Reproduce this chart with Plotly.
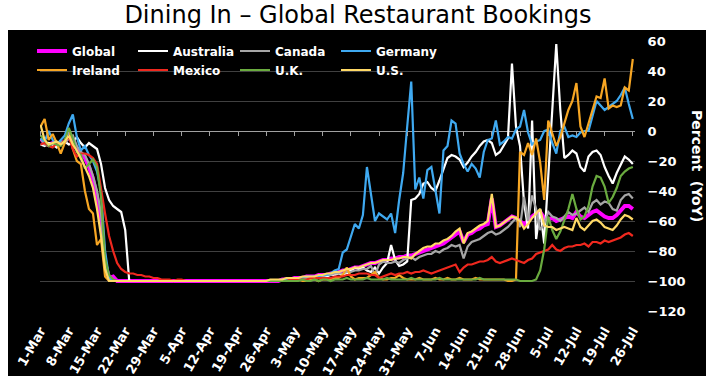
import pandas as pd
import plotly.graph_objects as go

# ---------------- data (daily, 1-Mar-2020 .. 26-Jul-2020) ----------------
dates = pd.date_range("2020-03-01", "2020-07-26", freq="D")

global_vals = ([-5, -8, -9, -8, -8, -8, -7, -4, -6, -12, -15, -18, -24, -32, -44, -62, -88, -98, -97, -100]
               + [-100] * 40 +
               [-99, -99, -99, -98, -98, -98, -97, -97, -97, -96,
                -96, -96, -95, -95, -94, -93, -93, -92, -91, -91,
                -90, -89, -88, -88, -87, -86, -86, -85, -85, -84,
                -84, -83, -83, -82, -81, -80, -79, -78, -77, -76,
                -75, -73, -71, -69, -67, -74, -69, -68, -66, -65,
                -63, -62, -45, -64, -63, -61, -59, -57, -58, -60,
                -62, -60, -57, -55, -54, -58, -59, -58, -60, -59,
                -58, -57, -58, -54, -57, -58, -56, -54, -53, -55,
                -57, -58, -58, -56, -53, -50, -50, -52])

australia = ([-9, -10, -8, -9, -11, -8, -7, -9, -8, -4, -8, -11, -8, -10, -12, -22, -38, -46, -50, -52, -54, -66, -100]
             + [-100] * 37 +
             [-100, -100, -99, -99, -99, -98, -98, -98, -97, -97,
              -97, -97, -96, -96, -95, -96, -95, -93, -91, -92,
              -91, -93, -94, -91, -95, -91, -88, -76, -86, -90,
              -89, -87, -46, -45, -42, -35, -34, -38, -40, -33,
              -25, -18, -16, -17, -19, -24, -21, -17, -14, -10,
              -7, -6, -8, -16, -14, -9, -5, 45, 3, -10,
              -48, -65, 7, -72, -52, -75, -29, 10, 58, 14,
              -18, -16, -13, -15, -24, -27, -17, -14, -13, -16,
              -24, -30, -35, -28, -22, -17, -19, -22])

canada = ([-5, -9, -10, -8, -9, -7, -8, -5, -3, -10, -14, -16, -22, -30, -40, -55, -88, -98, -100]
          + [-100] * 41 +
          [-100, -99, -99, -99, -99, -98, -98, -98, -97, -97,
           -97, -96, -96, -95, -95, -95, -94, -94, -93, -93,
           -92, -92, -90, -96, -89, -87, -88, -88, -87, -88,
           -86, -85, -84, -86, -84, -83, -82, -82, -80, -81,
           -79, -78, -76, -77, -76, -85, -77, -74, -73, -72,
           -70, -68, -67, -69, -68, -66, -64, -61, -58, -64,
           -44, -60, -43, -52, -66, -62, -54, -57, -58, -60,
           -57, -54, -56, -55, -53, -51, -54, -48, -46, -49,
           -47, -48, -52, -53, -46, -43, -42, -45])

germany = ([-5, -7, 0, -6, -9, -6, -3, 5, 11, -4, -13, -10, -16, -20, -27, -40, -80, -98]
           + [-100] * 42 +
           [-99, -99, -99, -98, -98, -98, -97, -97, -97, -97,
            -96, -96, -95, -93, -92, -81, -79, -70, -62, -65,
            -56, -24, -41, -60, -55, -57, -59, -55, -68, -46,
            -28, 3, 33, -39, -31, -45, -26, -24, -41, -55,
            -13, -10, 7, 5, -15, -22, -27, -22, -25, -31,
            -14, -6, -5, 7, -9, -7, -4, -5, 1, 3,
            14, -1, -9, -7, -6, 0, 1, -8, -15, 0,
            3, -4, -3, -4, -1, 0, 0, 10, 20, 17,
            14, 16, 18, 20, 24, 29, 18, 8])

ireland = ([3, 8, -6, -2, -8, -15, -8, 0, -12, -20, -22, -40, -52, -55, -76, -72, -97, -100]
           + [-100] * 42 +
           [-100, -100, -100, -100, -99, -100, -100, -99, -99, -100,
            -99, -99, -99, -98, -98, -96, -91, -97, -99, -98,
            -98, -98, -96, -94, -98, -99, -99, -98, -98, -96,
            -98, -99, -99, -99, -98, -99, -99, -99, -98, -99,
            -99, -98, -99, -99, -98, -99, -99, -99, -98, -99,
            -99, -99, -99, -99, -99, -99, -100, -100]
           + [-99, -14, -16, -8, -16, -5, -21, -46, 7, -1,
              -10, -4, 5, 14, 20, 32, 3, -4, 5, 14,
              23, 22, 35, 15, 17, 16, 17, 29, 27, 48])

mexico = ([-9, -8, -10, -11, -8, -9, -6, -4, -12, -17, -15, -15, -16, -18, -22, -40, -55, -70,
           -80, -88, -92, -94, -95, -95, -96, -96, -97, -97, -98, -98, -99, -99, -99, -100, -99, -99]
          + [-100] * 24 +
          [-100, -100, -99, -99, -99, -99, -99, -98, -98, -98,
           -98, -98, -98, -97, -97, -97, -96, -96, -96, -95,
           -95, -95, -96, -96, -98, -97, -96, -95, -96, -95,
           -95, -94, -95, -94, -94, -93, -94, -95, -94, -93,
           -92, -91, -90, -89, -94, -91, -89, -89, -88, -87,
           -87, -86, -84, -87, -88, -87, -86, -85, -86, -87,
           -88, -86, -85, -82, -81, -80, -79, -76, -79, -80,
           -78, -77, -77, -76, -76, -75, -77, -74, -74, -75,
           -73, -74, -73, -72, -71, -69, -68, -70])

uk = ([-3, -6, -10, -8, -9, -10, -6, 2, -5, -14, -16, -25, -22, -19, -24, -44, -85, -96, -99, -100]
      + [-100] * 40 +
      [-100, -100, -100, -100, -100, -99, -100, -100, -99, -100,
       -99, -99, -100, -99, -99, -99, -98, -99, -99, -99,
       -99, -98, -99, -99, -99, -99, -98, -99, -99, -99,
       -99, -99, -98, -99, -99, -99, -99, -99, -99, -98,
       -99, -99, -99, -99, -99, -99, -99, -99, -99, -98,
       -99, -99, -99, -99, -99, -99, -99, -99, -99, -100]
      + [-100, -100, -100, -99, -93, -79, -57, -66, -72, -67,
         -60, -52, -42, -52, -59, -57, -50, -37, -30, -31,
         -37, -48, -44, -38, -30, -27, -25, -24])

us = ([4, -6, -9, -8, -7, -9, -7, -3, -9, -13, -18, -24, -30, -38, -52, -70, -92, -100]
      + [-100] * 38 +
      [-100, -99, -99, -99,
       -99, -98, -98, -98, -98, -97, -97, -97, -97, -96,
       -96, -95, -95, -94, -94, -93, -92, -92, -91, -91,
       -90, -89, -88, -88, -87, -86, -86, -86, -85, -85,
       -84, -84, -85, -82, -80, -78, -77, -77, -75, -75,
       -73, -72, -70, -67, -65, -75, -68, -67, -65, -63,
       -62, -60, -42, -64, -63, -61, -59, -57, -58, -60,
       -65, -62, -58, -55, -52, -63, -64, -64, -66, -65,
       -64, -65, -66, -58, -64, -66, -63, -60, -59, -61,
       -64, -65, -66, -63, -59, -56, -57, -59])

names = ["Global", "Australia", "Canada", "Germany", "Ireland", "Mexico", "U.K.", "U.S."]
values = [global_vals, australia, canada, germany, ireland, mexico, uk, us]
colors = ["#ff00ff", "#ffffff", "#a6a6a6", "#3fa9f0", "#f7a623", "#f0281e", "#6aab3f", "#ffd966"]
widths = [4, 2.2, 2.2, 2.2, 2.2, 2.2, 2.2, 2.2]

y_ticks = [-120, -100, -80, -60, -40, -20, 0, 20, 40, 60]

# ---------------- geometry (pixels) ----------------
W, H = 716, 386
ML, MR, MT, MB = 40, 81, 41, 75
PW, PH = W - ML - MR, H - MT - MB


def px_x(p):
    return (p - ML) / PW


def px_y(p):
    return (H - MB - p) / PH


bold_white = dict(family="DejaVu Sans", color="white", weight="bold")

fig = go.Figure()
legend_cols_px = [32, 133, 235, 336]
legend_rows_px = [51, 70]
layout_legends = {}
for i, (n, v, c, w) in enumerate(zip(names, values, colors, widths)):
    assert len(v) == len(dates), (n, len(v))
    key = "legend" if i == 0 else f"legend{i + 1}"
    fig.add_trace(go.Scatter(x=dates, y=v, mode="lines", name=n,
                             line=dict(color=c, width=w), legend=key))
    layout_legends[key] = dict(
        x=px_x(legend_cols_px[i % 4]), y=px_y(legend_rows_px[i // 4]),
        xanchor="left", yanchor="middle", orientation="h",
        bgcolor="rgba(0,0,0,0)", borderwidth=0, itemwidth=30,
        font=dict(size=12, **bold_white))

# invisible helper trace for the tick marks along the zero line
fig.add_trace(go.Scatter(x=[dates[0]], y=[None], xaxis="x2", showlegend=False,
                         hoverinfo="skip", mode="lines"))

x_range = ["2020-02-29 20:24", "2020-07-26 13:00"]

fig.update_layout(
    width=W, height=H,
    margin=dict(l=ML, r=MR, t=MT, b=MB, pad=0, autoexpand=False),
    paper_bgcolor="white", plot_bgcolor="black",
    title=dict(text="Dining In – Global Restaurant Bookings", x=0.5, xref="container",
               xanchor="center", y=1 - 15 / H, yref="container", yanchor="middle",
               automargin=False,
               font=dict(family="DejaVu Sans", size=24, color="black")),
    xaxis=dict(type="date", range=x_range, tick0="2020-03-01", dtick=7 * 86400000,
               tickformat="%-d-%b", tickangle=-60, showgrid=False, zeroline=False,
               showline=False, ticks="outside", ticklen=6, tickcolor="rgba(0,0,0,0)",
               automargin=False, tickfont=dict(size=13, **bold_white)),
    xaxis2=dict(type="date", range=x_range, overlaying="x", anchor="free",
                position=120 / 180, tick0="2020-03-01", dtick=7 * 86400000,
                ticks="outside", ticklen=4, tickcolor="#a0a0a0", tickwidth=1,
                automargin=False,
                showticklabels=False, showgrid=False, zeroline=False, showline=False),
    yaxis=dict(side="right", range=[-120, 60], tickvals=y_ticks,
               showgrid=True, gridcolor="#404040", gridwidth=1,
               zeroline=True, zerolinecolor="#a0a0a0", zerolinewidth=1,
               ticks="outside", ticklen=9, tickcolor="rgba(0,0,0,0)",
               automargin=False, tickfont=dict(size=13, **bold_white)),
    shapes=[dict(type="rect", xref="paper", yref="paper", layer="below",
                 x0=px_x(8), x1=px_x(706), y0=px_y(376), y1=px_y(30),
                 fillcolor="black", line=dict(width=0))],
    annotations=[dict(text="Percent  (YoY)", xref="paper", yref="paper",
                      x=px_x(697), y=px_y(166), textangle=90, showarrow=False,
                      xanchor="center", yanchor="middle",
                      font=dict(size=14, **bold_white))],
    showlegend=True,
    **layout_legends,
)

fig.write_html("out.html", config={"displayModeBar": False},
               post_script="document.body.style.margin='0';")
